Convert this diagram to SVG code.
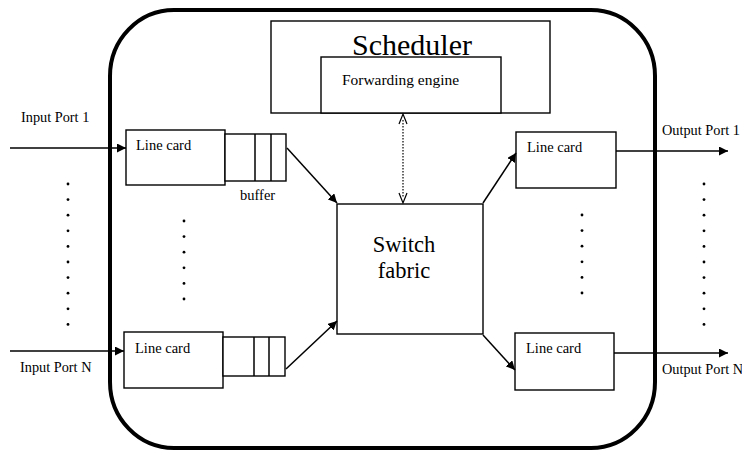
<svg xmlns="http://www.w3.org/2000/svg" width="742" height="452" viewBox="0 0 742 452">
<style>
.box{fill:#fff;stroke:#000;stroke-width:1.4}
.t{font-family:"Liberation Serif","Times New Roman",serif;fill:#000}
.s{font-size:14.5px}
.big{font-size:30px}
.sf{font-size:22.5px}
.c{stroke:#000;stroke-width:1.5;fill:none}
.dot{fill:#000}
</style>
<defs>
<marker id="ah" viewBox="0 0 10 10" refX="10" refY="5" markerWidth="9" markerHeight="9" markerUnits="userSpaceOnUse" orient="auto">
<path d="M0,0 L10,5 L0,10 z" fill="#000"/>
</marker>
</defs>
<rect width="742" height="452" fill="#fff"/>
<g id="router">
<rect x="110" y="10" width="545" height="438" rx="64" ry="66" fill="none" stroke="#000" stroke-width="4"/>
</g>
<g id="scheduler">
<rect class="box" x="271" y="21" width="279" height="92"/>
<text class="t big" x="412" y="55" text-anchor="middle">Scheduler</text>
</g>
<g id="forwarding">
<rect class="box" x="321" y="57" width="180" height="56"/>
<text class="t" x="342" y="85" font-size="14" textLength="117" lengthAdjust="spacingAndGlyphs">Forwarding engine</text>
</g>
<g id="switch">
<rect class="box" x="337" y="204" width="146" height="130" stroke-width="2"/>
<text class="t sf" x="404" y="252" text-anchor="middle">Switch</text>
<text class="t sf" x="404" y="278" text-anchor="middle">fabric</text>
</g>
<g id="lc-in-1">
<rect class="box" x="126" y="130" width="99" height="55"/>
<text class="t s" x="136" y="150">Line card</text>
</g>
<g id="buf-1">
<rect class="box" x="225" y="134" width="61" height="47"/>
<line class="c" x1="255" y1="134" x2="255" y2="181" stroke-width="1.2"/>
<line class="c" x1="271" y1="134" x2="271" y2="181" stroke-width="1.2"/>
<text class="t s" x="240" y="200">buffer</text>
</g>
<g id="lc-in-n">
<rect class="box" x="124" y="332" width="99" height="56"/>
<text class="t s" x="135" y="353">Line card</text>
</g>
<g id="buf-n">
<rect class="box" x="223" y="337" width="62" height="39"/>
<line class="c" x1="254" y1="337" x2="254" y2="376" stroke-width="1.2"/>
<line class="c" x1="269" y1="337" x2="269" y2="376" stroke-width="1.2"/>
</g>
<g id="lc-out-1">
<rect class="box" x="516" y="132" width="100" height="56"/>
<text class="t s" x="527" y="152">Line card</text>
</g>
<g id="lc-out-n">
<rect class="box" x="515" y="333" width="99" height="57"/>
<text class="t s" x="526" y="353">Line card</text>
</g>
<g id="labels">
<text class="t" x="21" y="122" font-size="14.3">Input Port 1</text>
<text class="t" x="20" y="372" font-size="14.3">Input Port N</text>
<text class="t" x="662" y="135" font-size="14.3">Output Port 1</text>
<text class="t" x="662" y="374" font-size="14.3">Output Port N</text>
</g>
<g id="connectors">
<line class="c" x1="10" y1="148" x2="126" y2="148" stroke-width="2" marker-end="url(#ah)"/>
<line class="c" x1="10" y1="351" x2="124" y2="351" marker-end="url(#ah)"/>
<line class="c" x1="616" y1="151" x2="728" y2="151" stroke-width="2" marker-end="url(#ah)"/>
<line class="c" x1="614" y1="353" x2="728" y2="353" marker-end="url(#ah)"/>
<line class="c" x1="287" y1="148" x2="337" y2="203" marker-end="url(#ah)"/>
<line class="c" x1="286" y1="369" x2="337" y2="321" marker-end="url(#ah)"/>
<line class="c" x1="483" y1="203" x2="516" y2="153" marker-end="url(#ah)"/>
<line class="c" x1="483" y1="335" x2="515" y2="370" marker-end="url(#ah)"/>
<line x1="403" y1="120" x2="403" y2="198" stroke="#000" stroke-width="1.2" stroke-dasharray="1.5 1.5"/>
<path d="M399,124 L403,114 L407,124" fill="none" stroke="#000" stroke-width="1.2"/>
<path d="M399,193 L403,203 L407,193" fill="none" stroke="#000" stroke-width="1.2"/>
</g>
<g id="dots" class="dot">
<circle cx="68" cy="184" r="1.4"/><circle cx="68" cy="199.6" r="1.4"/><circle cx="68" cy="215.2" r="1.4"/><circle cx="68" cy="230.8" r="1.4"/><circle cx="68" cy="246.4" r="1.4"/><circle cx="68" cy="262" r="1.4"/><circle cx="68" cy="277.6" r="1.4"/><circle cx="68" cy="293.2" r="1.4"/><circle cx="68" cy="308.8" r="1.4"/><circle cx="68" cy="324.4" r="1.4"/>
<circle cx="184" cy="221" r="1.4"/><circle cx="184" cy="236.6" r="1.4"/><circle cx="184" cy="252.2" r="1.4"/><circle cx="184" cy="267.8" r="1.4"/><circle cx="184" cy="283.4" r="1.4"/><circle cx="184" cy="299" r="1.4"/>
<circle cx="582" cy="215" r="1.4"/><circle cx="582" cy="230.6" r="1.4"/><circle cx="582" cy="246.2" r="1.4"/><circle cx="582" cy="261.8" r="1.4"/><circle cx="582" cy="277.4" r="1.4"/><circle cx="582" cy="293" r="1.4"/>
<circle cx="704" cy="184" r="1.4"/><circle cx="704" cy="199.6" r="1.4"/><circle cx="704" cy="215.2" r="1.4"/><circle cx="704" cy="230.8" r="1.4"/><circle cx="704" cy="246.4" r="1.4"/><circle cx="704" cy="262" r="1.4"/><circle cx="704" cy="277.6" r="1.4"/><circle cx="704" cy="293.2" r="1.4"/><circle cx="704" cy="308.8" r="1.4"/><circle cx="704" cy="324.4" r="1.4"/>
</g>
</svg>
